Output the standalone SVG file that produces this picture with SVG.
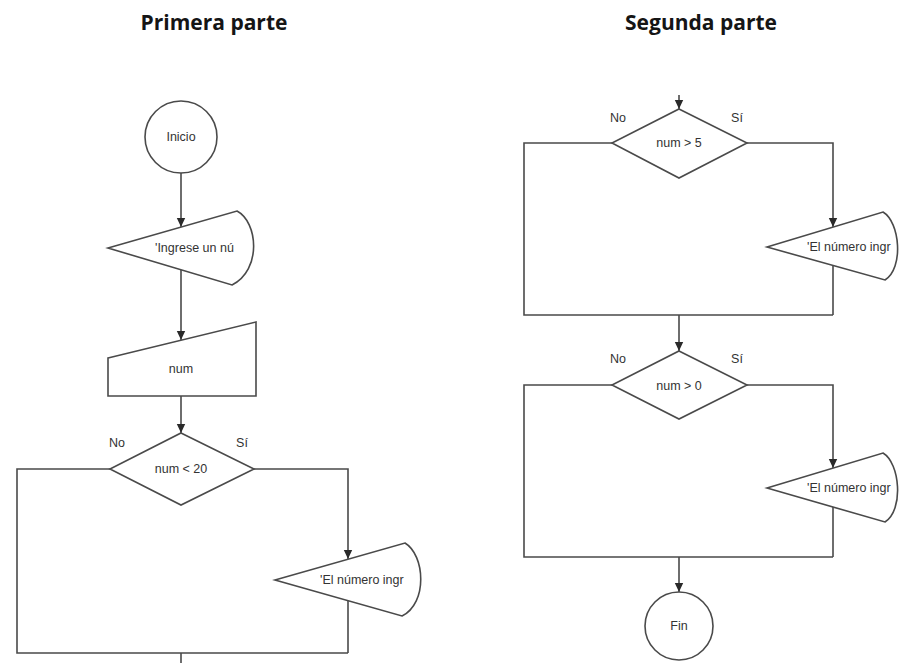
<svg xmlns="http://www.w3.org/2000/svg" width="902" height="663" viewBox="0 0 902 663">
  <style>
    .shape { fill: #ffffff; stroke: #4a4a4a; stroke-width: 1.6; }
    .edge { fill: none; stroke: #4a4a4a; stroke-width: 1.6; }
    .arrow { marker-end: url(#head); }
    .lbl { font-family: "Liberation Sans", Arial, sans-serif; font-size: 12.5px; fill: #333333; }
    .mid { text-anchor: middle; dominant-baseline: central; }
    .title { font-family: "Open Sans", "Noto Sans", sans-serif; font-weight: 700; font-size: 21px; fill: #151515; text-anchor: middle; }
  </style>
  <defs>
    <marker id="head" markerUnits="userSpaceOnUse" markerWidth="10" markerHeight="10" refX="9" refY="5" orient="auto">
      <path d="M0,0.8 L9,5 L0,9.2 Z" fill="#2a2a2a"/>
    </marker>
  </defs>
  <rect width="902" height="663" fill="#ffffff"/>

  <text class="title" x="214" y="30">Primera parte</text>
  <text class="title" x="701" y="30">Segunda parte</text>

  <!-- connectors -->
  <g id="connectors">
    <!-- first part -->
    <path class="edge arrow" d="M181,173 L181,227"/>
    <path class="edge arrow" d="M181,270 L181,340"/>
    <path class="edge arrow" d="M181,396 L181,433"/>
    <path class="edge" d="M110,469 L17,469 L17,653 L348,653"/>
    <path class="edge arrow" d="M254,469 L348,469 L348,559"/>
    <path class="edge" d="M348,601 L348,653"/>
    <path class="edge" d="M181,653 L181,663"/>
    <!-- second part -->
    <path class="edge arrow" d="M679,95 L679,109"/>
    <path class="edge" d="M612,143 L524,143 L524,315 L833,315"/>
    <path class="edge arrow" d="M747,143 L833,143 L833,227"/>
    <path class="edge" d="M833,265 L833,315"/>
    <path class="edge arrow" d="M679,315 L679,351"/>
    <path class="edge" d="M612,385 L524,385 L524,557 L833,557"/>
    <path class="edge arrow" d="M747,385 L833,385 L833,468"/>
    <path class="edge" d="M833,507 L833,557"/>
    <path class="edge arrow" d="M679,557 L679,592"/>
  </g>

  <!-- first part nodes -->
  <g id="inicio">
    <circle class="shape" cx="181" cy="137" r="36"/>
    <text class="lbl mid" x="181" y="137">Inicio</text>
  </g>
  <g id="mostrar-ingrese">
    <path class="shape" d="M108,248 L237,211 C258,222 262,270 232,285 Z"/>
    <text class="lbl" x="155" y="248" dominant-baseline="central">'Ingrese un nú</text>
  </g>
  <g id="leer-num">
    <polygon class="shape" points="108,358 256,322 256,396 108,396"/>
    <text class="lbl mid" x="181" y="369">num</text>
  </g>
  <g id="decision-menor-20">
    <polygon class="shape" points="181,433 254,469 181,505 110,469"/>
    <text class="lbl mid" x="181" y="469">num &lt; 20</text>
    <text class="lbl mid" x="117" y="443">No</text>
    <text class="lbl mid" x="242" y="443">Sí</text>
  </g>
  <g id="mostrar-menor-20">
    <path class="shape" d="M275,580 L405,543 C425,555 428,603 402,616 Z"/>
    <text class="lbl" x="320" y="580" dominant-baseline="central">'El número ingr</text>
  </g>

  <!-- second part nodes -->
  <g id="decision-mayor-5">
    <polygon class="shape" points="679,109 747,143 679,178 612,143"/>
    <text class="lbl mid" x="679" y="143">num &gt; 5</text>
    <text class="lbl mid" x="618" y="118">No</text>
    <text class="lbl mid" x="737" y="118">Sí</text>
  </g>
  <g id="mostrar-mayor-5">
    <path class="shape" d="M767,247 L883,212 C900,222 904,268 885,280 Z"/>
    <text class="lbl" x="807" y="247" dominant-baseline="central">'El número ingr</text>
  </g>
  <g id="decision-mayor-0">
    <polygon class="shape" points="679,351 747,385 679,419 612,385"/>
    <text class="lbl mid" x="679" y="386">num &gt; 0</text>
    <text class="lbl mid" x="618" y="359">No</text>
    <text class="lbl mid" x="737" y="359">Sí</text>
  </g>
  <g id="mostrar-mayor-0">
    <path class="shape" d="M767,488 L883,453 C900,463 904,510 885,522 Z"/>
    <text class="lbl" x="807" y="488" dominant-baseline="central">'El número ingr</text>
  </g>
  <g id="fin">
    <circle class="shape" cx="679" cy="626" r="34"/>
    <text class="lbl mid" x="679" y="626">Fin</text>
  </g>
</svg>
